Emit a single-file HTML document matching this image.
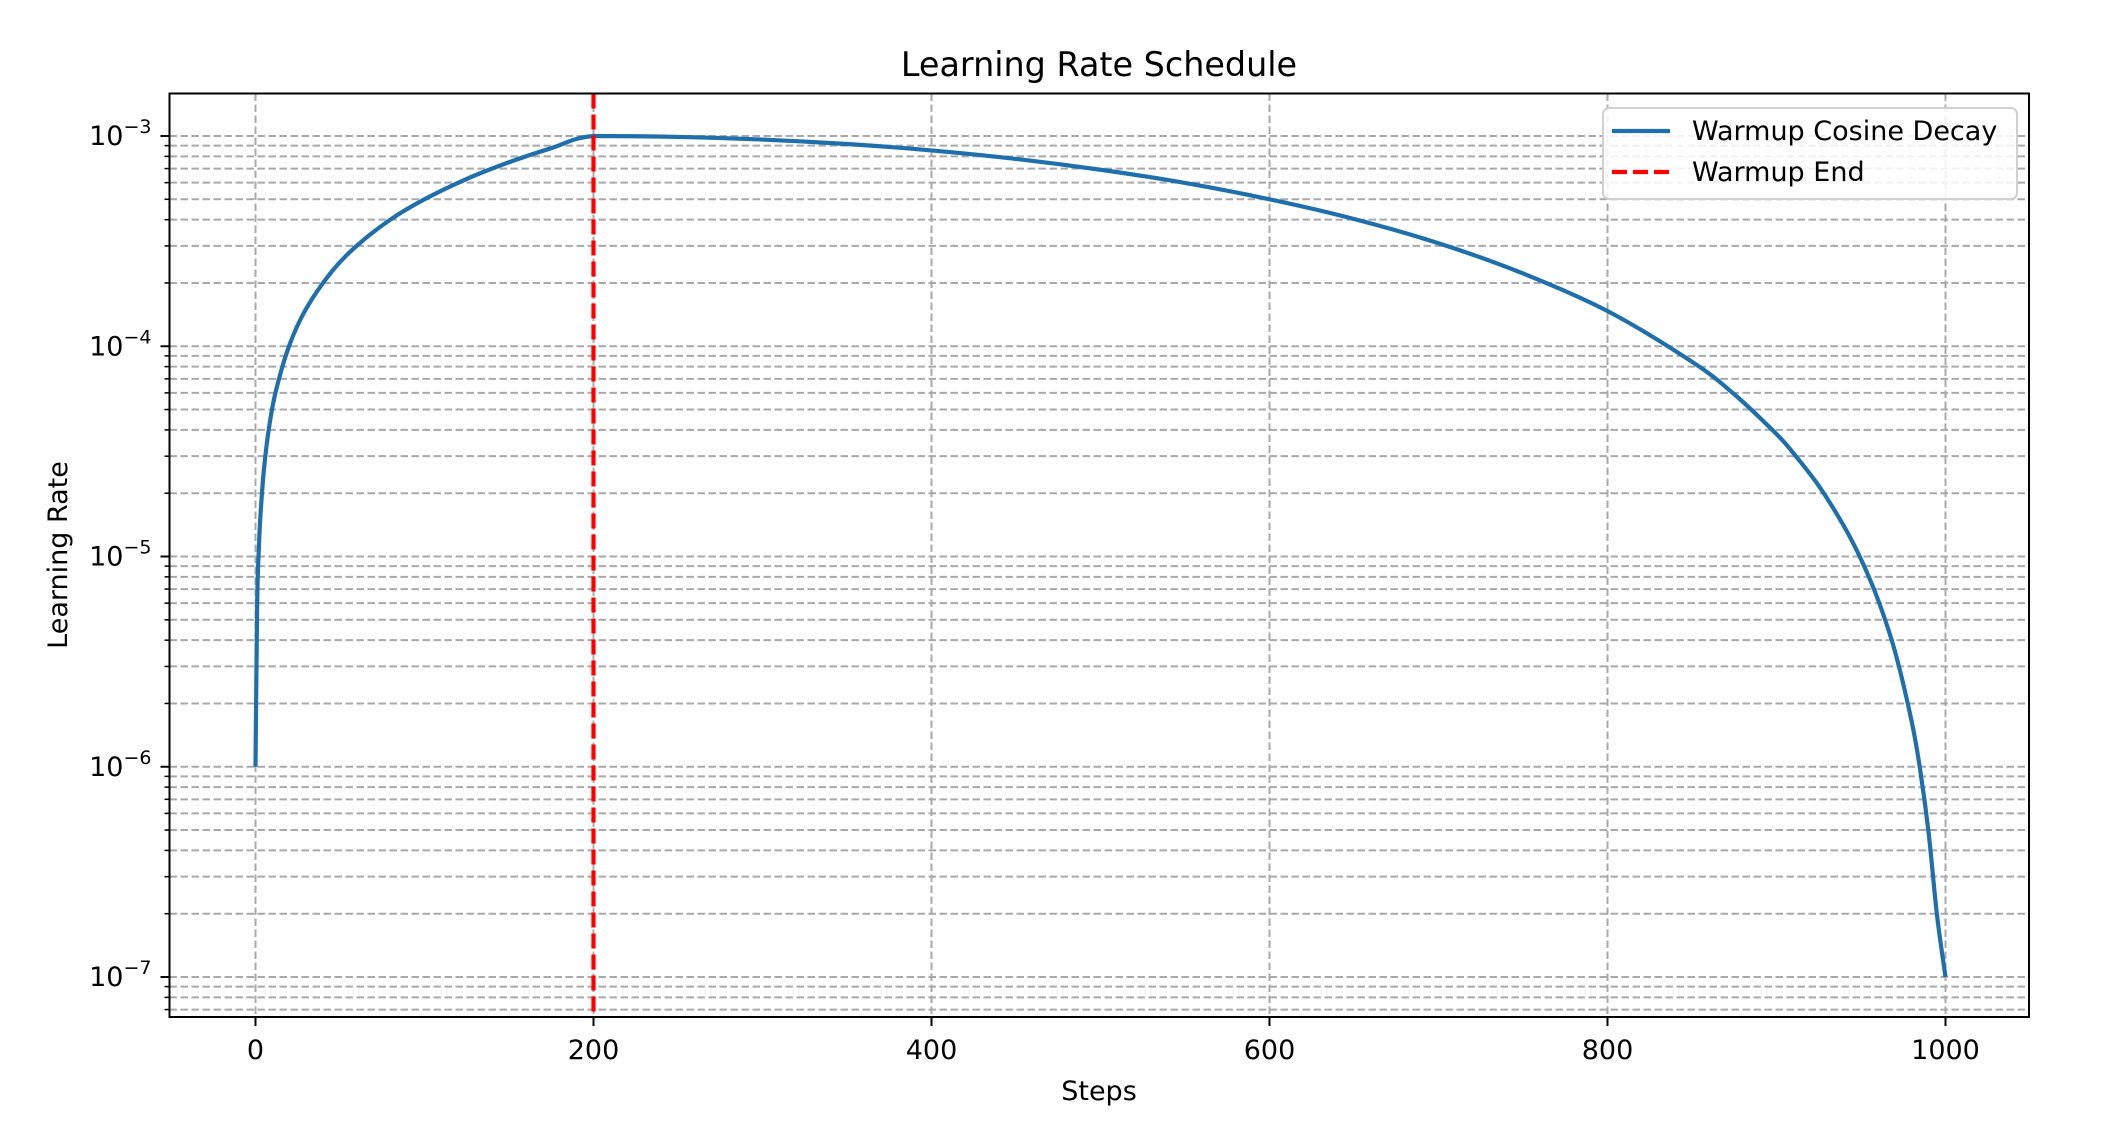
<!DOCTYPE html>
<html><head><meta charset="utf-8"><style>
html,body{margin:0;padding:0;background:#fff;}
svg{display:block;font-family:"DejaVu Sans","Liberation Sans",sans-serif;}
</style></head><body>
<svg id="chart" width="2104" height="1134" viewBox="0 0 2104 1134" xmlns="http://www.w3.org/2000/svg">
<rect width="2104" height="1134" fill="#fff"/>
<g id="grid"></g>
<g id="plot"></g>
<g id="axes"></g>
<text x="1099" y="76" font-size="33.4" text-anchor="middle" fill="#000">Learning Rate Schedule</text>
<text x="1099" y="1100" font-size="27" text-anchor="middle" fill="#000">Steps</text>
<text x="0" y="0" font-size="27" text-anchor="middle" fill="#000" transform="translate(67,555) rotate(-90)">Learning Rate</text>
<g>
<rect x="1603" y="108" width="414" height="91" rx="6" fill="#fff" fill-opacity="0.85" stroke="#d0d0d0" stroke-width="2"/>
<line x1="1612" y1="131" x2="1670" y2="131" stroke="#1f6fad" stroke-width="4.2"/>
<text x="1692" y="140" font-size="27" fill="#000">Warmup Cosine Decay</text>
<line x1="1612" y1="172" x2="1670" y2="172" stroke="#ff0000" stroke-width="4.2" stroke-dasharray="15,6"/>
<text x="1692" y="181" font-size="27" fill="#000">Warmup End</text>
</g>
</svg>
<script>
const steps = [0,1,2,3,5,8,12,20,30,45,60,80,100,125,150,175,200,250,300,350,400,450,500,550,600,650,700,750,800,850,875,900,910,925,940,950,960,970,980,985,990,995,1000];
const lrValues = [1e-6,6.0e-6,1.1e-5,1.6e-5,2.6e-5,4.1e-5,6.1e-5,1.01e-4,1.51e-4,2.26e-4,3.01e-4,4.01e-4,5.0e-4,6.25e-4,7.5e-4,8.75e-4,1e-3,9.90e-4,9.62e-4,9.16e-4,8.54e-4,7.78e-4,6.91e-4,5.98e-4,5.0e-4,4.03e-4,3.09e-4,2.22e-4,1.47e-4,8.44e-5,5.91e-5,3.82e-5,3.10e-5,2.17e-5,1.39e-5,9.7e-6,6.25e-6,3.56e-6,1.64e-6,9.67e-7,4.86e-7,1.96e-7,1e-7];
const warmupEnd = [200];
const xTicks = [0,200,400,600,800,1000];
const yDecades = [-7,-6,-5,-4,-3];

const L=169.5,R=2029,T=93.5,B=1017;
const X0=255.5,PX=1.69;
const Y3=136,DEC=210.25;
function xs(v){return X0+v*PX;}
function ys(v){return Y3-(Math.log10(v)+3)*DEC;}
const NS="http://www.w3.org/2000/svg";
function mk(tag,attrs,parent){const e=document.createElementNS(NS,tag);for(const k in attrs)e.setAttribute(k,attrs[k]);parent.appendChild(e);return e;}
const grid=document.getElementById('grid'),plot=document.getElementById('plot'),axes=document.getElementById('axes');
const gcol="#a9a9a9";
for(let d=-8; d<=-3; d++){
  for(let m=1;m<=9;m++){
    const v=m*Math.pow(10,d);const y=ys(v);
    if(y<T||y>B)continue;
    const gl=mk('line',{x1:L,x2:R,y1:y,y2:y,stroke:gcol,'stroke-width':2,'stroke-dasharray':'7.5,3.5'},grid);
    
    
    const tk=mk('line',{x1:L-(m===1?9:5),x2:L,y1:y,y2:y,stroke:'#000','stroke-width':m===1?2:1.5},axes);
    
    
  }
}
yDecades.forEach(d=>{
  const y=ys(Math.pow(10,d));
  const t=mk('text',{x:L-18,y:y+9,'font-size':27,'text-anchor':'end',fill:'#000'},axes);
  
  
  const a=document.createElementNS(NS,'tspan');a.textContent='10';t.appendChild(a);
  const b=document.createElementNS(NS,'tspan');b.setAttribute('dy','-12');b.setAttribute('font-size','19');b.textContent='\u2212'+(-d);t.appendChild(b);
});
xTicks.forEach(v=>{
  const x=xs(v);
  const gl=mk('line',{x1:x,x2:x,y1:T,y2:B,stroke:gcol,'stroke-width':2,'stroke-dasharray':'7.5,3.5'},grid);
  
  
  const tk=mk('line',{x1:x,x2:x,y1:B,y2:B+9,stroke:'#000','stroke-width':2},axes);
  
  
  const t=mk('text',{x:x,y:B+42,'font-size':27,'text-anchor':'middle',fill:'#000'},axes);
  t.textContent=String(v);
  
  
});
// smooth series (Catmull-Rom through data points)
const pts=steps.map((s,i)=>[xs(s),ys(lrValues[i])]);
let d='M'+pts[0][0].toFixed(2)+','+pts[0][1].toFixed(2);
for(let i=0;i<pts.length-1;i++){
  const p0=pts[Math.max(0,i-1)],p1=pts[i],p2=pts[i+1],p3=pts[Math.min(pts.length-1,i+2)];
  const c1=[p1[0]+(p2[0]-p0[0])/6,p1[1]+(p2[1]-p0[1])/6];
  const c2=[p2[0]-(p3[0]-p1[0])/6,p2[1]-(p3[1]-p1[1])/6];
  if(i===16||i===15){c1[1]=Math.max(c1[1],Math.min(p1[1],p2[1]));c2[1]=Math.max(c2[1],Math.min(p1[1],p2[1]));}
  d+='C'+c1[0].toFixed(2)+','+c1[1].toFixed(2)+' '+c2[0].toFixed(2)+','+c2[1].toFixed(2)+' '+p2[0].toFixed(2)+','+p2[1].toFixed(2);
}
const line=mk('path',{d:d,fill:'none',stroke:'#1f6fad','stroke-width':4.2,'stroke-linejoin':'round'},plot);


warmupEnd.forEach(v=>{
  const vl=mk('line',{x1:xs(v),x2:xs(v),y1:T,y2:B,stroke:'#ff0000','stroke-width':4.2,'stroke-dasharray':'15,6'},plot);
  
  
});
const frame=mk('rect',{x:L,y:T,width:R-L,height:B-T,fill:'none',stroke:'#000','stroke-width':2},axes);


</script>
</body></html>
